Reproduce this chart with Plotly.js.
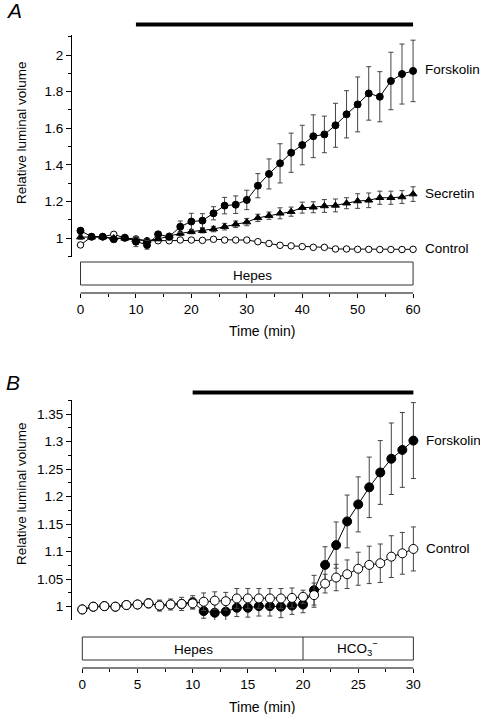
<!DOCTYPE html>
<html>
<head>
<meta charset="utf-8">
<script src="https://cdn.plot.ly/plotly-3.0.1.min.js"></script>
<style>html,body{margin:0;padding:0;background:#fff;}#chart{width:480px;height:714px;}</style>
</head>
<body>
<div id="chart"></div>
<script>
// ---------- Panel A data ----------
const timeA = [0,2,4,6,8,10,12,14,16,18,20,22,24,26,28,30,32,34,36,38,40,42,44,46,48,50,52,54,56,58,60];
const forskolinA = [1.04,1.007,1.007,0.993,1.002,0.98,0.962,1.02,1.007,1.062,1.09,1.095,1.135,1.177,1.182,1.208,1.286,1.35,1.408,1.466,1.508,1.556,1.566,1.616,1.676,1.73,1.79,1.772,1.858,1.896,1.913];
const forskolinAErr = [0.015,0.01,0.01,0.01,0.01,0.027,0.023,0.015,0.018,0.031,0.045,0.038,0.036,0.045,0.048,0.053,0.066,0.082,0.107,0.107,0.108,0.117,0.1,0.12,0.129,0.15,0.146,0.137,0.157,0.164,0.168];
const secretinA = [1.005,1.005,1.005,1.0,0.998,0.99,0.985,0.995,1.01,1.025,1.035,1.04,1.049,1.062,1.075,1.087,1.11,1.122,1.135,1.144,1.166,1.168,1.175,1.178,1.19,1.202,1.206,1.22,1.22,1.224,1.24];
const secretinAErr = [0.012,0.008,0.008,0.008,0.008,0.012,0.012,0.01,0.01,0.012,0.012,0.012,0.015,0.018,0.018,0.02,0.02,0.02,0.03,0.025,0.03,0.03,0.035,0.035,0.03,0.04,0.04,0.036,0.036,0.035,0.04];
const controlA = [0.962,1.007,1.007,1.02,1.0,0.995,0.985,0.985,0.985,0.989,0.989,0.987,0.993,0.989,0.989,0.989,0.98,0.97,0.96,0.957,0.953,0.949,0.949,0.94,0.94,0.938,0.938,0.937,0.937,0.937,0.938];
const controlAErr = [0.012,0.005,0.005,0.008,0.005,0.005,0.005,0.005,0.005,0.005,0.005,0.005,0.005,0.005,0.005,0.005,0.005,0.005,0.005,0.005,0.005,0.005,0.005,0.005,0.005,0.008,0.008,0.008,0.01,0.012,0.012];

// ---------- Panel B data ----------
const timeB = [0,1,2,3,4,5,6,7,8,9,10,11,12,13,14,15,16,17,18,19,20,21,22,23,24,25,26,27,28,29,30];
const forskolinB = [0.995,1.0,1.001,1.0,1.003,1.004,1.006,1.002,1.004,1.005,1.008,0.992,0.989,0.991,0.998,0.998,1.001,1.001,1.0,1.002,1.004,1.03,1.076,1.112,1.155,1.186,1.217,1.244,1.269,1.285,1.302];
const forskolinBErr = [0.005,0.004,0.004,0.004,0.005,0.005,0.008,0.01,0.01,0.012,0.012,0.013,0.015,0.016,0.016,0.017,0.018,0.018,0.02,0.016,0.015,0.027,0.033,0.042,0.048,0.05,0.055,0.058,0.065,0.068,0.069];
const controlB = [0.995,1.0,1.001,1.0,1.003,1.004,1.006,1.002,1.004,1.005,1.006,1.009,1.011,1.01,1.015,1.015,1.015,1.015,1.015,1.016,1.018,1.021,1.042,1.053,1.059,1.069,1.076,1.079,1.091,1.097,1.105];
const controlBErr = [0.007,0.004,0.004,0.004,0.005,0.005,0.006,0.008,0.007,0.008,0.01,0.016,0.016,0.016,0.018,0.018,0.018,0.018,0.018,0.018,0.012,0.022,0.017,0.024,0.026,0.03,0.034,0.035,0.038,0.038,0.04];

const yTicksA = [1,1.2,1.4,1.6,1.8,2];
const yTickTextA = ['1','1.2','1.4','1.6','1.8','2'];
const yTicksB = [1,1.05,1.1,1.15,1.2,1.25,1.3,1.35];
const yTickTextB = ['1','1.05','1.1','1.15','1.2','1.25','1.3','1.35'];
const xTicksA = [0,10,20,30,40,50,60];
const xTicksB = [0,5,10,15,20,25,30];

const W = 480, H = 714;
const px = v => v / W;
const py = v => 1 - v / H;
const FONT = 'Liberation Sans, Arial, sans-serif';
const ERRC = '#444';

function series(x, y, err, xa, ya, symbol, fill, size) {
  return {
    x: x, y: y, xaxis: xa, yaxis: ya, type: 'scatter', mode: 'lines+markers',
    line: {color: '#000', width: 1},
    marker: {symbol: symbol, size: size, color: fill, line: {color: '#000', width: 1}},
    error_y: {type: 'data', array: err, visible: true, color: ERRC, thickness: 1, width: 2.5},
    showlegend: false, hoverinfo: 'skip', cliponaxis: false
  };
}

const data = [
  series(timeA, controlA, controlAErr, 'x', 'y', 'circle', '#fff', 6.5),
  series(timeA, secretinA, secretinAErr, 'x', 'y', 'triangle-up', '#000', 7),
  series(timeA, forskolinA, forskolinAErr, 'x', 'y', 'circle', '#000', 7),
  series(timeB, forskolinB, forskolinBErr, 'x2', 'y2', 'circle', '#000', 9),
  series(timeB, controlB, controlBErr, 'x2', 'y2', 'circle', '#fff', 9)
];

const tickFont = {family: FONT, size: 13.5, color: '#000'};
const lab = (text, x, y, anchor, size, angle) => ({
  text: text, x: px(x), y: py(y), xref: 'paper', yref: 'paper',
  xanchor: anchor, yanchor: 'middle', showarrow: false, textangle: angle || 0,
  font: {family: FONT, size: size, color: '#000'}
});

const layout = {
  width: W, height: H,
  margin: {l: 0, r: 0, t: 0, b: 0},
  paper_bgcolor: '#fff', plot_bgcolor: 'rgba(0,0,0,0)',
  showlegend: false,
  xaxis: {
    domain: [px(72), px(420)], range: [-1.534, 61.25],
    anchor: 'free', position: py(293),
    showline: false, showgrid: false, zeroline: false,
    tickmode: 'array', tickvals: xTicksA, ticks: 'outside', ticklen: 4, tickcolor: '#000', tickwidth: 1,
    minor: {tickmode: 'array', tickvals: [5,15,25,35,45,55], ticks: 'outside', ticklen: 2.5, tickcolor: '#000'},
    tickfont: tickFont
  },
  yaxis: {
    domain: [py(257), py(35)], range: [0.8962, 2.1093],
    anchor: 'x', showline: true, linecolor: '#000', linewidth: 1,
    showgrid: false, zeroline: false,
    tickmode: 'array', tickvals: yTicksA, ticktext: yTickTextA,
    ticks: 'outside', ticklen: 5, tickcolor: '#000',
    minor: {tickmode: 'array', tickvals: [0.9,1.1,1.3,1.5,1.7,1.9,2.1], ticks: 'outside', ticklen: 3, tickcolor: '#000'},
    tickfont: tickFont
  },
  xaxis2: {
    domain: [px(72), px(420)], range: [-0.934, 30.6],
    anchor: 'free', position: py(668),
    showline: false, showgrid: false, zeroline: false,
    tickmode: 'array', tickvals: xTicksB, ticks: 'outside', ticklen: 4, tickcolor: '#000',
    minor: {tickmode: 'array', tickvals: [2.5,7.5,12.5,17.5,22.5,27.5], ticks: 'outside', ticklen: 2.5, tickcolor: '#000'},
    tickfont: tickFont
  },
  yaxis2: {
    domain: [py(620), py(400)], range: [0.9758, 1.3758],
    anchor: 'x2', showline: true, linecolor: '#000', linewidth: 1,
    showgrid: false, zeroline: false,
    tickmode: 'array', tickvals: yTicksB, ticktext: yTickTextB,
    ticks: 'outside', ticklen: 5, tickcolor: '#000',
    minor: {tickmode: 'array', tickvals: [0.975,1.025,1.075,1.125,1.175,1.225,1.275,1.325,1.375], ticks: 'outside', ticklen: 3, tickcolor: '#000'},
    tickfont: tickFont
  },
  shapes: [
    {type: 'line', xref: 'x', yref: 'paper', x0: 0, x1: 60, y0: py(293), y1: py(293), line: {color: '#000', width: 1}},
    {type: 'line', xref: 'x2', yref: 'paper', x0: 0, x1: 30, y0: py(668), y1: py(668), line: {color: '#000', width: 1}},
    {type: 'line', xref: 'x', yref: 'paper', x0: 10, x1: 60, y0: py(24.5), y1: py(24.5), line: {color: '#000', width: 4}},
    {type: 'line', xref: 'x2', yref: 'paper', x0: 10, x1: 30, y0: py(392.5), y1: py(392.5), line: {color: '#000', width: 4}},
    {type: 'rect', xref: 'x', yref: 'paper', x0: 0, x1: 60, y0: py(285), y1: py(262), line: {color: '#333', width: 1}},
    {type: 'rect', xref: 'x2', yref: 'paper', x0: 0, x1: 30, y0: py(660), y1: py(637), line: {color: '#333', width: 1}},
    {type: 'line', xref: 'x2', yref: 'paper', x0: 20, x1: 20, y0: py(660), y1: py(637), line: {color: '#333', width: 1}}
  ],
  annotations: [
    lab('<i>A</i>', 4, 11, 'left', 21),
    lab('<i>B</i>', 4, 382, 'left', 21),
    lab('Relative luminal volume', 21, 133, 'center', 13.5, -90),
    lab('Relative luminal volume', 21, 494, 'center', 13.5, -90),
    lab('Time (min)', 262, 331, 'center', 14),
    lab('Time (min)', 262, 707, 'center', 14),
    lab('Hepes', 252, 275, 'center', 13.5),
    lab('Hepes', 193, 649, 'center', 13.5),
    lab('HCO<sub>3</sub><sup>−</sup>', 357, 648, 'center', 13.5),
    lab('Forskolin', 423, 70, 'left', 13.5),
    lab('Secretin', 423, 194, 'left', 13.5),
    lab('Control', 423, 248, 'left', 13.5),
    lab('Forskolin', 424, 440, 'left', 13.5),
    lab('Control', 424, 548, 'left', 13.5)
  ]
};

Plotly.newPlot('chart', data, layout, {staticPlot: true, displayModeBar: false});
</script>
</body>
</html>
